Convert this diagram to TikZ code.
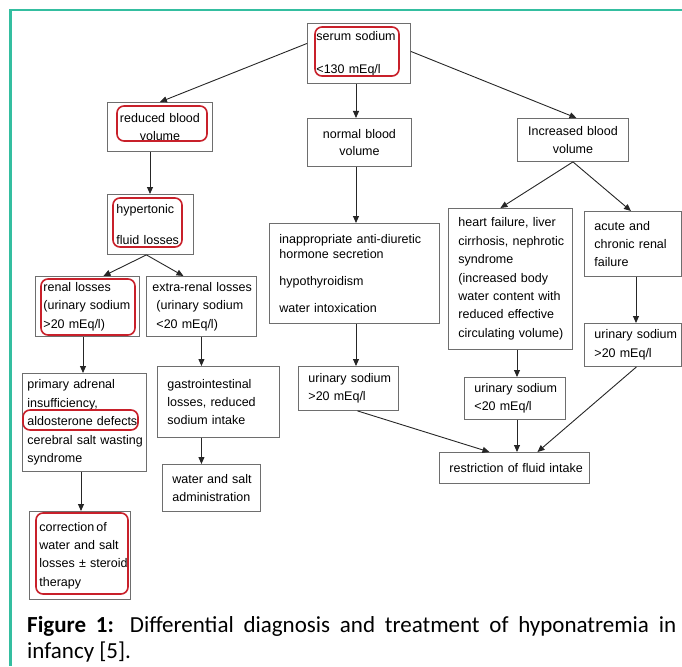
\documentclass[tikz,border=0pt]{standalone}
\usepackage{fontspec}
\setmainfont{Liberation Sans}
\newfontfamily\capfont{Carlito}
\usetikzlibrary{arrows.meta}
\definecolor{boxgray}{RGB}{110,110,110}
\definecolor{markred}{RGB}{200,32,42}
\definecolor{frameteal}{RGB}{52,190,160}
\newcommand{\boxfont}{\fontsize{12.5}{18.4}\selectfont\hyphenpenalty=10000\exhyphenpenalty=10000\hbadness=10000\hfuzz=50pt}
\tikzset{
  box/.style={draw=boxgray, line width=0.9pt, anchor=north west, inner ysep=0pt,
    inner xsep=10pt, align=left, font=\boxfont},
  cbox/.style={box, align=center},
  arr/.style={-{Triangle[length=7pt,width=6pt]}, line width=0.9pt, draw=black!85},
  redmark/.style={draw=markred, line width=1.6pt, rounded corners=7pt},
  frame/.style={draw=frameteal, line width=2.5pt}
}
\begin{document}
\begin{tikzpicture}[x=1pt,y=-1pt]
\useasboundingbox (0,0) rectangle (682,666);
\draw[frame] (10.5,666) -- (10.5,10) -- (682,10);

% boxes
\node[box, inner xsep=9pt, text width=85pt, minimum width=103pt, minimum height=60pt] (serum) at (307,23)
  {serum~sodium\\[14.6pt]<130~mEq/l};
\node[cbox, text width=85pt, minimum width=105pt, minimum height=49pt] (reduced) at (107,102)
  {reduced~blood\\volume};
\node[cbox, text width=84pt, minimum width=104pt, minimum height=48pt] (normal) at (307,118)
  {normal~blood\\[-1.4pt]volume};
\node[cbox, text width=91pt, minimum width=111pt, minimum height=43pt] (increased) at (517,118)
  {Increased~blood\\volume};
\node[box, inner xsep=9pt, text width=68pt, minimum width=86pt, minimum height=60pt] (hyper) at (107,194)
  {hypertonic\\[12.6pt]fluid~losses};
\node[box, inner xsep=8pt, text width=88pt, minimum width=104pt, minimum height=60pt] (renal) at (35,276)
  {renal~losses\\(urinary~sodium\\>20~mEq/l)};
\node[box, inner xsep=6pt, text width=98pt, minimum width=110pt, minimum height=60pt] (extra) at (146,276)
  {extra-renal~losses\\\hspace*{4pt}(urinary~sodium\\\hspace*{4pt}<20~mEq/l)};
\node[box, text width=150pt, minimum width=170pt, minimum height=100pt] (inapp) at (269,223)
  {inappropriate~anti-diuretic\\[-3.4pt]hormone~secretion\\[8.6pt]hypothyroidism\\[8.6pt]water~intoxication};
\node[box, text width=104pt, minimum width=124pt, minimum height=141pt] (heart) at (448,208)
  {heart~failure,~liver\\cirrhosis,~nephrotic\\syndrome\\(increased~body\\water~content~with\\reduced~effective\\circulating~volume)};
\node[box, text width=77pt, minimum width=97pt, minimum height=65pt] (acute) at (584,211)
  {acute~and\\chronic~renal\\failure};
\node[box, text width=77pt, minimum width=97pt, minimum height=43pt] (uright) at (584,323)
  {urinary~sodium\\>20~mEq/l};
\node[box, inner xsep=5pt, text width=114pt, minimum width=124pt, minimum height=98pt] (primary) at (22,373)
  {primary~adrenal\\insufficiency,\\aldosterone~defects\\cerebral~salt~wasting\\syndrome};
\node[box, text width=102pt, minimum width=122pt, minimum height=71pt] (gastro) at (157,366)
  {gastrointestinal\\losses,~reduced\\sodium~intake};
\node[box, text width=78pt, minimum width=98pt, minimum height=47pt] (water) at (162,464)
  {water~and~salt\\administration};
\node[box, text width=81pt, minimum width=101pt, minimum height=88pt] (correction) at (29,511)
  {correction\hspace{2pt}of\\water~and~salt\\losses~±~steroid\\therapy};
\node[box, text width=80pt, minimum width=100pt, minimum height=44pt] (umid) at (298,366)
  {urinary~sodium\\>20~mEq/l};
\node[box, text width=81pt, minimum width=101pt, minimum height=42pt] (uless) at (464,377)
  {urinary~sodium\\<20~mEq/l};
\node[box, text width=130pt, minimum width=150pt, minimum height=31pt] (restr) at (439,452)
  {restriction~of~fluid~intake};

% red highlight marks
\draw[redmark] (315,27) rectangle (399,76);
\draw[redmark] (117,106) rectangle (207,141);
\draw[redmark] (113,198) rectangle (182,247);
\draw[redmark] (41,279) rectangle (135,335);
\draw[redmark] (23,410) rectangle (138,430);
\draw[redmark] (36,513) rectangle (128,594);

% column coordinates
\coordinate (c1) at (356,0);
\coordinate (c2) at (150,0);
\coordinate (c3) at (83,0);
\coordinate (c4) at (81,0);
\coordinate (c5) at (517,0);
\coordinate (c6) at (636,0);

% connectors
\draw[arr] ([yshift=10pt]serum.west) -- (reduced.north);
\draw[arr] (c1 |- serum.south) -- (c1 |- normal.north);
\draw[arr] ([yshift=2pt]serum.east) -- ([xshift=3.5pt]increased.north);
\draw[arr] (c2 |- reduced.south) -- (c2 |- hyper.north);
\draw[arr] ([xshift=-4pt]hyper.south) -- ([xshift=16pt]renal.north);
\draw[arr] ([xshift=-4pt]hyper.south) -- ([xshift=-18pt]extra.north);
\draw[arr] (c3 |- renal.south) -- (c3 |- primary.north);
\draw[arr] (extra.south) -- (extra.south |- gastro.north);
\draw[arr] (c4 |- primary.south) -- (c4 |- correction.north);
\draw[arr] (extra.south |- gastro.south) -- (extra.south |- water.north);
\draw[arr] (c1 |- normal.south) -- (c1 |- inapp.north);
\draw[arr] (c1 |- inapp.south) -- (c1 |- umid.north);
\draw[arr] (increased.south) -- ([xshift=-10pt]heart.north);
\draw[arr] (increased.south) -- ([xshift=-2pt]acute.north);
\draw[arr] (c5 |- heart.south) -- (c5 |- uless.north);
\draw[arr] (c6 |- acute.south) -- (c6 |- uright.north);
\draw[arr] ([xshift=9pt]umid.south) -- ([xshift=-25pt]restr.north);
\draw[arr] (c5 |- uless.south) -- (c5 |- restr.north);
\draw[arr] ([xshift=3.5pt]uright.south) -- ([xshift=23pt]restr.north);

% caption
\node[anchor=north west, text width=649pt, align=justify, inner sep=0pt,
  font=\capfont\fontsize{23}{26.5}\selectfont] (cap) at (27,616)
  {\textbf{Figure 1:} Differential diagnosis and treatment of hyponatremia in\linebreak infancy [5].};
\end{tikzpicture}
\end{document}
